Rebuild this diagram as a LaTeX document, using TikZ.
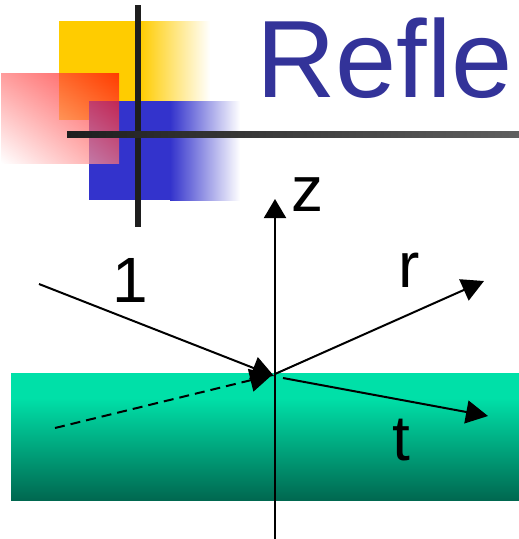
\documentclass[tikz,border=0pt]{standalone}
\usepackage{fontspec}
\setmainfont{Liberation Sans}
\usetikzlibrary{arrows.meta,shadings}

\definecolor{titleblue}{RGB}{51,51,153}
\definecolor{decoyellow}{RGB}{255,204,0}
\definecolor{decoblue}{RGB}{51,51,204}
\definecolor{decored}{RGB}{255,0,0}
\definecolor{barleft}{RGB}{30,30,30}
\definecolor{barright}{RGB}{95,95,95}
\definecolor{slabtop}{RGB}{0,224,168}
\definecolor{slabbottom}{RGB}{0,104,80}

\begin{document}
\begin{tikzpicture}[
        x=1pt, y=-1pt,
        lbl/.style={
            inner sep=0pt,
            anchor=base,
            font=\fontsize{64}{70}\selectfont
        },
        ray/.style={-{Triangle[length=22pt,width=23pt]}, line width=2pt},
        axis/.style={-{Triangle[length=19pt,width=22pt]}, line width=2pt},
        bar/.style={line width=6pt}
    ]

        \useasboundingbox (0,0) rectangle (519,539);

        % decoration squares
        \fill[decoyellow] (59,21) rectangle (140,120);
        \shade[left color=decoyellow, right color=white] (140,21) rectangle (210,120);
        \fill[decoblue] (89,101) rectangle (170,200);
        \shade[left color=decoblue, right color=white] (170,101) rectangle (240,200);
        \shade[upper right=decored, lower left=white, upper left=decored!55!white,
            lower right=decored!55!white, fill opacity=0.7] (1,73) rectangle (119,163);

        \coordinate (vtop) at (138,5);
        \coordinate (vbot) at (138,227);
        \draw[bar, barleft] (vtop) -- (vbot);
        \shade[left color=barleft, right color=barright] (67,131) rectangle (519,137);

        \node[inner sep=0pt, anchor=base west, text=titleblue,
            font=\fontsize{110}{116}\selectfont] (title) at (256,97) {Refle};

        % slab
        \fill[slabtop] (11,373) rectangle (519,500);
        \shade[top color=slabtop, bottom color=slabbottom] (11,398) rectangle (519,500);

        % rays
        \coordinate (hit) at (275,374);
        \coordinate (zbot) at (275,539);
        \coordinate (ztop) at (275,199);
        \coordinate (inc) at (39,284);
        \coordinate (inctip) at (274,376);
        \coordinate (refl) at (484,281);
        \coordinate (trstart) at (283,378);
        \coordinate (trtip) at (488,416);
        \coordinate (dstart) at (55,428);
        \coordinate (dtip) at (272,375);

        \draw[axis] (zbot) -- (ztop);
        \draw[ray] (inc) -- (inctip);
        \draw[ray] (hit) -- (refl);
        \draw[ray] (trstart) -- (trtip);
        \draw[ray, dash pattern=on 10pt off 6pt] (dstart) -- (dtip);

        \node[lbl] (zlbl) at (307,211) {z};
        \node[lbl] (onelbl) at (130,302) {1};
        \node[lbl] (rlbl) at (409,287) {r};
        \node[lbl] (tlbl) at (401,460) {t};

    \end{tikzpicture}
\end{document}
